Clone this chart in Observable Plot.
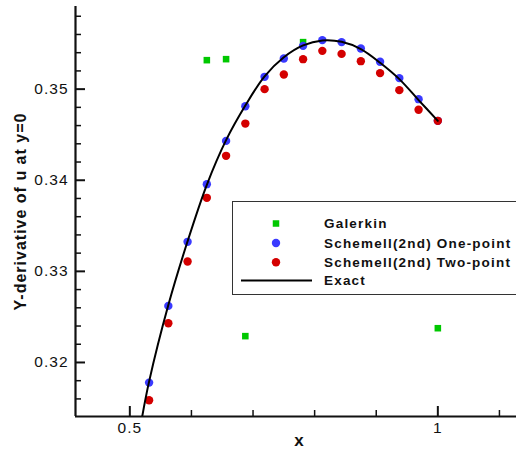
<!DOCTYPE html>
<html>
<head>
<meta charset="utf-8">
<script src="https://cdn.jsdelivr.net/npm/d3@7"></script>
<script src="https://cdn.jsdelivr.net/npm/@observablehq/plot@0.6"></script>
<style>
  html, body { margin: 0; padding: 0; background: #fff; overflow: hidden; }
  #wrap { position: relative; width: 516px; height: 455px; }
  #legend { position: absolute; left: 232px; top: 201px; width: 320px; height: 94px;
            border: 1.5px solid #333; background: #fff; box-sizing: border-box; }
  #legend text { font-family: "Liberation Sans", Arial, sans-serif; font-weight: bold; font-size: 13.5px; letter-spacing: 1.2px; fill: #111; }
</style>
</head>
<body>
<div id="wrap"></div>
<script>
// ---- data ----
const xPts = [0.53125, 0.5625, 0.59375, 0.625, 0.65625, 0.6875, 0.71875, 0.75,
              0.78125, 0.8125, 0.84375, 0.875, 0.90625, 0.9375, 0.96875, 1.0];
const onePoint = [0.31779, 0.32621, 0.33324, 0.33957, 0.34432, 0.34813, 0.35135, 0.35336,
                  0.35475, 0.35538, 0.35516, 0.35446, 0.35300, 0.35121, 0.34890, 0.34652];
const twoPoint = [0.31586, 0.32431, 0.33108, 0.33807, 0.34268, 0.34622, 0.35000, 0.35160,
                  0.35329, 0.35420, 0.35387, 0.35307, 0.35176, 0.34989, 0.34773, 0.34652];
const galerkinX = [0.625, 0.65625, 0.6875, 0.78125, 1.0];
const galerkinY = [0.35318, 0.35329, 0.32289, 0.35516, 0.32376];
const exactX = [0.5201, 0.53125, 0.5625, 0.59375, 0.625, 0.65625, 0.6875, 0.71875, 0.75,
                0.78125, 0.8125, 0.84375, 0.875, 0.90625, 0.9375, 0.96875, 1.0];
const exactY = [0.31407, 0.31790, 0.32630, 0.33330, 0.33950, 0.34440, 0.34820, 0.35140, 0.35350,
                0.35480, 0.35535, 0.35520, 0.35440, 0.35290, 0.35110, 0.34880, 0.34652];

const xDomain = [0.4118, 1.1277];
const yDomain = [0.31407, 0.35907];
const xMajor = [0.5, 1];
const xMajorLabels = ["0.5", "1"];
const xMinor = [0.6, 0.7, 0.8, 0.9, 1.1];
const yMajor = [0.32, 0.33, 0.34, 0.35];
const yMajorLabels = ["0.32", "0.33", "0.34", "0.35"];
const yMinor = [0.316, 0.318, 0.322, 0.324, 0.326, 0.328, 0.332, 0.334, 0.336, 0.338,
                0.342, 0.344, 0.346, 0.348, 0.352, 0.354, 0.356, 0.358];
const seriesNames = ["Galerkin", "Schemell(2nd) One-point", "Schemell(2nd) Two-point", "Exact"];
const colors = {green: "#00c800", blue: "#3a3aff", red: "#d40000"};

const one = xPts.map((x, i) => ({x, y: onePoint[i]}));
const two = xPts.map((x, i) => ({x, y: twoPoint[i]}));
const gal = galerkinX.map((x, i) => ({x, y: galerkinY[i]}));
const exact = exactX.map((x, i) => ({x, y: exactY[i]}));

const font = "'Liberation Sans', Arial, sans-serif";

const chart = Plot.plot({
  width: 516,
  height: 455,
  marginLeft: 75,
  marginRight: 0,
  marginTop: 6,
  marginBottom: 39,
  style: {fontFamily: font, fontSize: "15px", color: "#111", background: "#fff", letterSpacing: "1px"},
  x: {domain: xDomain},
  y: {domain: yDomain},
  marks: [
    Plot.axisY({ticks: yMajor, tickFormat: d => yMajorLabels[yMajor.indexOf(d)], tickSize: -10, tickPadding: 17, strokeWidth: 2, fontSize: 15.5, label: null}),
    Plot.axisY({ticks: yMinor, text: null, tickSize: -6, strokeWidth: 1.5, label: null}),
    Plot.axisX({ticks: xMajor, tickFormat: d => xMajorLabels[xMajor.indexOf(d)], tickSize: -10, tickPadding: 15, strokeWidth: 2, fontSize: 15.5, label: null}),
    Plot.axisX({ticks: xMinor, text: null, tickSize: -6, strokeWidth: 1.5, label: null}),
    Plot.ruleX([xDomain[0]], {stroke: "#111", strokeWidth: 2.2}),
    Plot.ruleY([yDomain[0]], {stroke: "#111", strokeWidth: 2.2}),
    Plot.dot(gal, {x: "x", y: "y", symbol: "square", r: 3.7, fill: colors.green}),
    Plot.dot(one, {x: "x", y: "y", r: 4.2, fill: colors.blue}),
    Plot.dot(two, {x: "x", y: "y", r: 4.2, fill: colors.red}),
    Plot.line(exact, {x: "x", y: "y", curve: "catmull-rom", stroke: "#000", strokeWidth: 2, clip: true}),
    Plot.text(["Y-derivative of u at y=0"], {frameAnchor: "left", textAnchor: "middle", rotate: -90, dx: -54.5, fontWeight: "bold", fontSize: 16, fill: "#111"}),
    Plot.text(["x"], {frameAnchor: "bottom", dy: 29, dx: 3.5, fontWeight: "bold", fontSize: 17, fill: "#111"})
  ]
});

const wrap = document.getElementById("wrap");
wrap.appendChild(chart);

// legend overlay
const legend = document.createElement("div");
legend.id = "legend";
const rows = [
  {name: seriesNames[0], kind: "square", color: colors.green, cy: 21.5},
  {name: seriesNames[1], kind: "circle", color: colors.blue, cy: 41},
  {name: seriesNames[2], kind: "circle", color: colors.red, cy: 60.3},
  {name: seriesNames[3], kind: "line", color: "#000", cy: 78.6}
];
const ns = "http://www.w3.org/2000/svg";
const svg = document.createElementNS(ns, "svg");
svg.setAttribute("width", 320);
svg.setAttribute("height", 92);
rows.forEach(r => {
  let el;
  if (r.kind === "square") {
    el = document.createElementNS(ns, "rect");
    el.setAttribute("x", 43 - 3.25); el.setAttribute("y", r.cy - 3.25);
    el.setAttribute("width", 6.5); el.setAttribute("height", 6.5);
    el.setAttribute("fill", r.color);
  } else if (r.kind === "circle") {
    el = document.createElementNS(ns, "circle");
    el.setAttribute("cx", 43); el.setAttribute("cy", r.cy); el.setAttribute("r", 4.2);
    el.setAttribute("fill", r.color);
  } else {
    el = document.createElementNS(ns, "line");
    el.setAttribute("x1", 8); el.setAttribute("x2", 79);
    el.setAttribute("y1", r.cy); el.setAttribute("y2", r.cy);
    el.setAttribute("stroke", r.color); el.setAttribute("stroke-width", 2);
  }
  svg.appendChild(el);
  const t = document.createElementNS(ns, "text");
  t.setAttribute("x", 91);
  t.setAttribute("y", r.cy);
  t.setAttribute("dy", "0.35em");
  t.textContent = r.name;
  svg.appendChild(t);
});
legend.appendChild(svg);
wrap.appendChild(legend);
</script>
</body>
</html>
